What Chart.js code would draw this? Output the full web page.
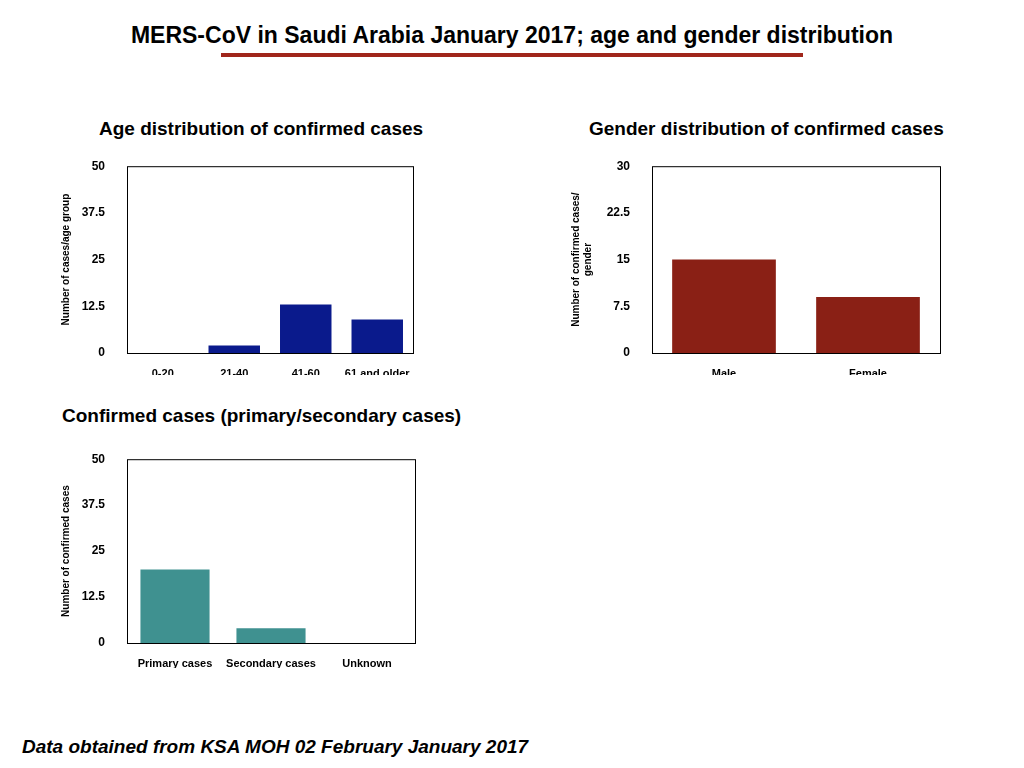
<!DOCTYPE html><html><head><meta charset="utf-8">
<script src="https://cdn.jsdelivr.net/npm/chart.js@4"></script>
<style>
body{margin:0;width:1024px;height:768px;background:#fff;font-family:"Liberation Sans",Arial,sans-serif;position:relative;overflow:hidden}
.t{position:absolute;font-weight:bold;color:#000;white-space:nowrap}
.c{position:absolute}
</style></head><body>
<div class="t" style="left:0;width:1024px;text-align:center;top:22px;font-size:23px">MERS-CoV in Saudi Arabia January 2017; age and gender distribution</div>
<div style="position:absolute;left:221px;top:53px;width:582px;height:4px;background:#a0261b"></div>
<div class="t" style="left:99px;top:118px;font-size:19px">Age distribution of confirmed cases</div>
<div class="t" style="left:589px;top:118px;font-size:19px">Gender distribution of confirmed cases</div>
<div class="t" style="left:62px;top:405px;font-size:19px">Confirmed cases (primary/secondary cases)</div>
<div class="t" style="left:22px;top:736px;font-size:19px;font-style:italic">Data obtained from KSA MOH 02 February January 2017</div>
<div class="c" style="left:60px;top:145px;width:360px;height:230px"><canvas id="c1"></canvas></div>
<div class="c" style="left:570px;top:145px;width:380px;height:230px"><canvas id="c2"></canvas></div>
<div class="c" style="left:60px;top:438px;width:362px;height:230px"><canvas id="c3"></canvas></div>
<script>
const ageLabels=["0-20","21-40","41-60","61 and older"];
const ageValues=[0,2,13,9];
const genderLabels=["Male","Female"];
const genderValues=[15,9];
const typeLabels=["Primary cases","Secondary cases","Unknown"];
const typeValues=[20,4,0];
const box={id:'box',afterDraw(ch){const a=ch.chartArea,x=ch.ctx;x.save();x.strokeStyle='#000';x.lineWidth=1;x.strokeRect(a.left+.5,a.top+.5,a.right-a.left,a.bottom-a.top);x.restore();}};
function mk(id,labels,values,color,max,step,ytitle,yw,rp,xh){
 new Chart(document.getElementById(id),{type:'bar',
 data:{labels,datasets:[{data:values,backgroundColor:color,barPercentage:0.72,categoryPercentage:1}]},
 options:{responsive:true,maintainAspectRatio:false,animation:false,
  layout:{padding:{top:8,right:rp,left:0,bottom:0}},
  plugins:{legend:{display:false},tooltip:{enabled:false}},
  scales:{
   x:{grid:{display:false},border:{display:false},ticks:{color:'#000',font:{size:11,weight:'bold',family:'Liberation Sans'},maxRotation:0,padding:6},afterFit(s){s.height=xh;}},
   y:{min:0,max:max,grid:{display:false},border:{display:false},
    ticks:{stepSize:step,color:'#000',font:{size:12,weight:'bold',family:'Liberation Sans'},padding:14},
    title:{display:true,text:ytitle,color:'#000',font:{size:10,weight:'bold',family:'Liberation Sans'},padding:0},
    afterFit(s){s.width=yw;}}
  }},plugins:[box]});
}
mk('c1',ageLabels,ageValues,'#0a1a8c',50,12.5,'Number of cases/age group',67,7,22);
mk('c2',genderLabels,genderValues,'#8a2015',30,7.5,['Number of confirmed cases/','gender'],82,10,22);
mk('c3',typeLabels,typeValues,'#3f9190',50,12.5,'Number of confirmed cases',67,7,25);
</script></body></html>
